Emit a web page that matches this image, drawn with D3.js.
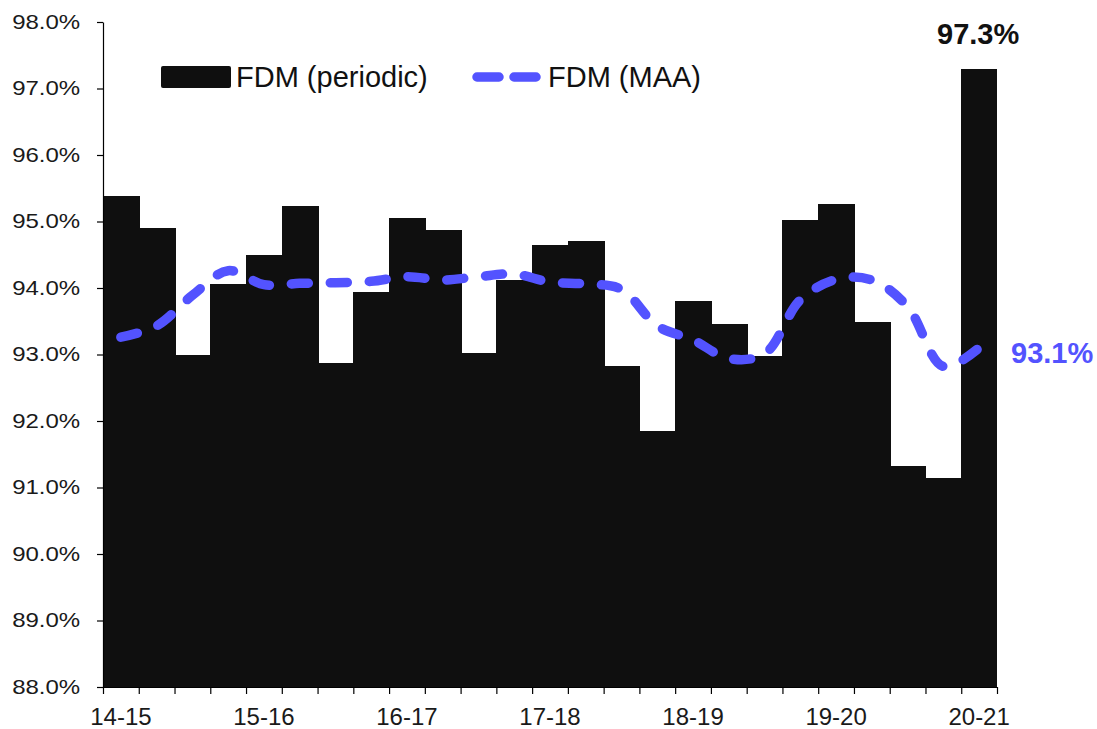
<!DOCTYPE html>
<html>
<head>
<meta charset="utf-8">
<script src="https://cdn.jsdelivr.net/npm/d3@7"></script>
<style>
  html, body { margin: 0; padding: 0; background: #fff; }
  svg { display: block; font-family: "Liberation Sans", Arial, sans-serif; }
</style>
</head>
<body>
<svg id="chart" width="1097" height="729"></svg>
<script>
// Quarterly periods, financial years 14-15 through 20-21 (Q1)
const years = ["14-15", "15-16", "16-17", "17-18", "18-19", "19-20", "20-21"];
const periods = years.flatMap(y => ["Q1", "Q2", "Q3", "Q4"].map(q => y + " " + q)).slice(0, 25);

// FDM per quarter (%)
const fdmPeriodic = [95.38, 94.90, 93.00, 94.06, 94.49, 95.23, 92.87, 93.94, 95.05, 94.87,
                     93.02, 94.12, 94.65, 94.71, 92.82, 91.85, 93.80, 93.46, 92.98, 95.02,
                     95.27, 93.49, 91.32, 91.15, 97.30];

// FDM moving annual average (%)
const fdmMAA = [93.26, 93.43, 93.89, 94.26, 94.05, 94.07, 94.08, 94.10, 94.17, 94.12,
                94.17, 94.21, 94.09, 94.06, 93.98, 93.43, 93.22, 92.94, 93.01, 93.82,
                94.13, 94.12, 93.72, 92.82, 93.10];

const yTicks = [88, 89, 90, 91, 92, 93, 94, 95, 96, 97, 98];
const seriesNames = ["FDM (periodic)", "FDM (MAA)"];

const barColor = "#0f0f0f";
const lineColor = "#5353ff";
const fontFamily = '"Liberation Sans", Arial, sans-serif';

const svg = d3.select("#chart");
const plotLeft = 103, plotRight = 997, plotTop = 22, plotBottom = 687;

const x = d3.scaleBand().domain(periods).range([plotLeft, plotRight]).paddingInner(0).paddingOuter(0);
const xEdges = d3.scaleLinear().domain([0, periods.length]).range([plotLeft, plotRight]);
const y = d3.scaleLinear().domain([88, 98]).range([plotBottom, plotTop]);
const last = periods.length - 1;

// Bars (adjacent, no gaps)
svg.append("g")
  .attr("shape-rendering", "crispEdges")
  .selectAll("rect")
  .data(periods)
  .join("rect")
  .attr("x", d => x(d))
  .attr("width", (d, i) => x.bandwidth() + (i < last ? 1 : 0))
  .attr("y", (d, i) => y(fdmPeriodic[i]))
  .attr("height", (d, i) => y(88) - y(fdmPeriodic[i]))
  .attr("fill", barColor);

// Moving annual average line
const line = d3.line()
  .x((d, i) => x(periods[i]) + x.bandwidth() / 2)
  .y(d => y(d))
  .curve(d3.curveCatmullRom.alpha(0.5));

svg.append("path")
  .datum(fdmMAA)
  .attr("d", line)
  .attr("fill", "none")
  .attr("stroke", lineColor)
  .attr("stroke-width", 9.5)
  .attr("stroke-linecap", "round")
  .attr("stroke-dasharray", "17,22");

// Y axis
const yAxis = svg.append("g")
  .attr("transform", `translate(${plotLeft},0)`)
  .call(d3.axisLeft(y).tickValues(yTicks).tickSize(6).tickSizeOuter(0).tickPadding(13)
    .tickFormat(d => d.toFixed(1) + "%"));
yAxis.select(".domain").attr("stroke", "#000").attr("stroke-width", 1.2);
yAxis.selectAll(".tick line").attr("stroke", "#000").attr("stroke-width", 1.2);
yAxis.selectAll(".tick text")
  .attr("font-size", 20)
  .attr("font-family", fontFamily)
  .attr("fill", "#1a1a1a")
  .attr("transform", "scale(1.2,1)");

// X axis: tick marks on quarter boundaries
const xEdgeAxis = svg.append("g")
  .attr("transform", `translate(0,${plotBottom})`)
  .call(d3.axisBottom(xEdges).tickValues(d3.range(0, periods.length + 1)).tickSize(7).tickSizeOuter(0)
    .tickFormat(""));
xEdgeAxis.select(".domain").attr("stroke", "#000").attr("stroke-width", 1.2);
xEdgeAxis.selectAll(".tick line").attr("stroke", "#000").attr("stroke-width", 1.2);

// X axis: year labels under each year's first quarter
const xLabelAxis = svg.append("g")
  .attr("transform", `translate(0,${plotBottom})`)
  .call(d3.axisBottom(x).tickValues(periods.filter(p => p.endsWith("Q1"))).tickSize(0).tickPadding(21)
    .tickFormat(d => d.slice(0, 5)));
xLabelAxis.select(".domain").remove();
xLabelAxis.selectAll(".tick text")
  .attr("font-size", 24)
  .attr("font-family", fontFamily)
  .attr("fill", "#1a1a1a");

// Value labels for the latest quarter
svg.append("text")
  .attr("x", x(periods[last]) + x.bandwidth() / 2 - 1)
  .attr("y", 44)
  .attr("text-anchor", "middle")
  .attr("font-size", 29)
  .attr("font-weight", "bold")
  .attr("fill", "#111")
  .text(fdmPeriodic[last].toFixed(1) + "%");

svg.append("text")
  .attr("x", 1011)
  .attr("y", y(fdmMAA[last]) + 15)
  .attr("font-size", 29)
  .attr("font-weight", "bold")
  .attr("fill", lineColor)
  .text(fdmMAA[last].toFixed(1) + "%");

// Legend
const legend = svg.append("g");
legend.append("rect")
  .attr("x", 161).attr("y", 66).attr("width", 70).attr("height", 22)
  .attr("rx", 2).attr("fill", barColor);
legend.append("text")
  .attr("x", 236).attr("y", 87)
  .attr("font-size", 29).attr("fill", "#111")
  .text(seriesNames[0]);
legend.append("line")
  .attr("x1", 477).attr("x2", 541).attr("y1", 77).attr("y2", 77)
  .attr("stroke", lineColor).attr("stroke-width", 9.5)
  .attr("stroke-linecap", "round").attr("stroke-dasharray", "22,15");
legend.append("text")
  .attr("x", 548).attr("y", 87)
  .attr("font-size", 29).attr("fill", "#111")
  .text(seriesNames[1]);
</script>
</body>
</html>
